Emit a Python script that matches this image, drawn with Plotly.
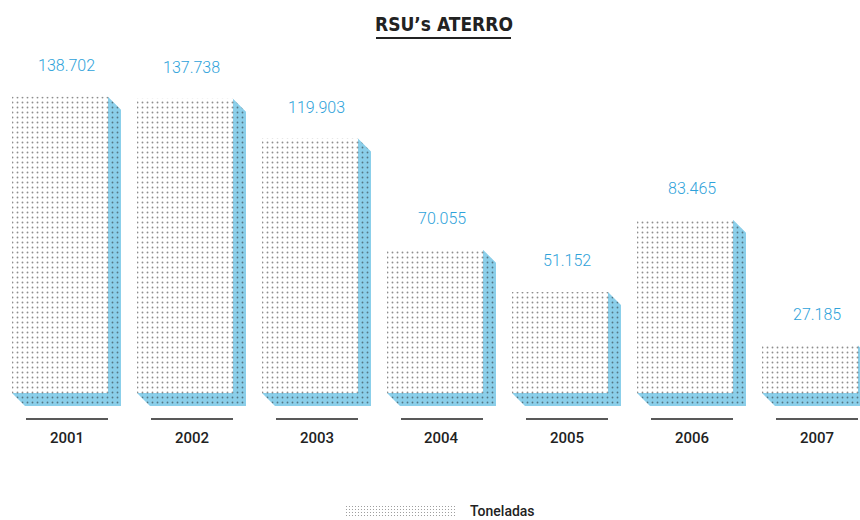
import plotly.graph_objects as go

# Landfilled municipal solid waste (tonnes per year)
years = ["2001", "2002", "2003", "2004", "2005", "2006", "2007"]
tons = [138702, 137738, 119903, 70055, 51152, 83465, 27185]
series_name = "Toneladas"
title_text = "RSU’s ATERRO"

W, H = 860, 520
BLUE = "#8bcfea"
DOT = "#1e1e1e"
LABEL_BLUE = "#2ea2da"
INK = "#222222"
FONT = "Roboto, sans-serif"
TITLE_FONT = "'DejaVu Sans Condensed', 'DejaVu Sans', sans-serif"

# pixel geometry of the plot area (margins are zero, so plot == page)
X0_PX, STEP_PX = 60, 125      # centre of first front face, spacing between bars
FACE_W_PX = 96                # width of the front face
DEPTH_PX = 13                 # depth of the blue extrusion
ZERO_PX = 406                 # pixel row of value 0
PX_PER_TON = 0.00223          # vertical scale

x_range = [-X0_PX / STEP_PX, (W - X0_PX) / STEP_PX]
y_range = [-(H - ZERO_PX) / PX_PER_TON, ZERO_PX / PX_PER_TON]
dx = DEPTH_PX / STEP_PX
dy = DEPTH_PX / PX_PER_TON
half = FACE_W_PX / 2 / STEP_PX

idx = list(range(len(years)))
dots = dict(shape=".", fgcolor=DOT, size=5, solidity=0.11)

fig = go.Figure()

# front faces of the bars
fig.add_trace(go.Bar(
    x=idx, y=[v - dy for v in tons], base=[dy] * len(tons), width=2 * half,
    marker=dict(color="white", line=dict(width=0),
                pattern=dict(**dots, bgcolor="white", fillmode="overlay")),
    name=series_name, showlegend=False, hoverinfo="skip",
))

# blue extrusion (right side + floor) of every bar
xs, ys = [], []
for i, v in zip(idx, tons):
    xs += [i + half, i + half + dx, i + half + dx, i - half + dx, i - half, i + half, i + half, None]
    ys += [v, v - dy, 0, 0, dy, dy, v, None]
fig.add_trace(go.Scatter(
    x=xs, y=ys, mode="lines", fill="toself", fillcolor=BLUE,
    fillpattern=dict(**dots, bgcolor=BLUE, fillmode="overlay"),
    line=dict(width=0), showlegend=False, hoverinfo="skip",
))

# legend swatch on its own small axes
fig.add_trace(go.Scatter(
    x=[0, 1, 1, 0, 0], y=[0, 0, 1, 1, 0], xaxis="x2", yaxis="y2",
    mode="lines", fill="toself", fillcolor="white",
    fillpattern=dict(shape=".", fgcolor=DOT, size=3, solidity=0.12, bgcolor="white"),
    line=dict(width=0), showlegend=False, hoverinfo="skip",
))

annotations = []
shapes = []
label_dx = (DEPTH_PX / 2) / STEP_PX
for i, v, yr in zip(idx, tons, years):
    annotations.append(dict(
        x=i + label_dx, y=v, yshift=31, text=f"{v:,}".replace(",", "."),
        showarrow=False, xanchor="center", yanchor="middle",
        font=dict(family=FONT, size=16, color=LABEL_BLUE, weight=300),
    ))
    annotations.append(dict(
        x=i + label_dx, y=0, yshift=-32, text=yr,
        showarrow=False, xanchor="center", yanchor="middle",
        font=dict(family=FONT, size=15, color=INK, weight=500),
    ))
    shapes.append(dict(
        type="line", x0=i - half + dx + 1 / STEP_PX, x1=i + half, y0=-dy, y1=-dy,
        line=dict(color=INK, width=1.6),
    ))

annotations.append(dict(
    xref="paper", yref="paper", x=444 / W, y=1 - 24 / H, text=title_text,
    showarrow=False, xanchor="center", yanchor="middle",
    font=dict(family=TITLE_FONT, size=19, color=INK, weight="bold"),
))
shapes.append(dict(
    type="line", xref="paper", yref="paper", x0=376 / W, x1=511 / W,
    y0=1 - 38 / H, y1=1 - 38 / H, line=dict(color=INK, width=2),
))
annotations.append(dict(
    xref="paper", yref="paper", x=469 / W, y=1 - 511 / H, text=series_name,
    showarrow=False, xanchor="left", yanchor="middle", borderpad=0,
    font=dict(family=FONT, size=14, color=INK, weight=500),
))

hidden = dict(visible=False, showgrid=False, zeroline=False, fixedrange=True)
fig.update_layout(
    width=W, height=H, autosize=False,
    margin=dict(l=0, r=0, t=0, b=0, pad=0),
    paper_bgcolor="white", plot_bgcolor="white",
    xaxis=dict(range=x_range, **hidden),
    yaxis=dict(range=y_range, **hidden),
    xaxis2=dict(domain=[345 / W, 455 / W], range=[0, 1], anchor="y2", **hidden),
    yaxis2=dict(domain=[1 - 517 / H, 1 - 505 / H], range=[0, 1], anchor="x2", **hidden),
    barmode="overlay",
    annotations=annotations, shapes=shapes,
    showlegend=False,
)

fig.write_html("out.html")
